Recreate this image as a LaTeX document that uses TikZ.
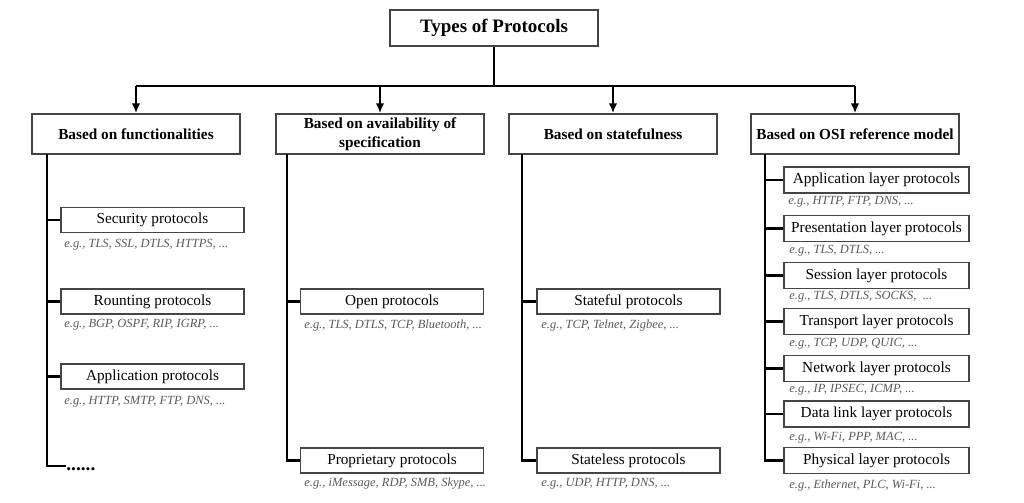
\documentclass[tikz,border=0pt]{standalone}
\usepackage{fontspec}
\setmainfont{Liberation Serif}
\usetikzlibrary{arrows.meta}
\definecolor{boxgray}{HTML}{454545}
\definecolor{eggray}{HTML}{5A5A5A}

\begin{document}
\begin{tikzpicture}[
        titlebox/.style={draw=boxgray, line width=0.8pt, minimum width=4.16cm, minimum height=0.72cm, font=\fontsize{10.8}{13}\selectfont\bfseries},
        catbox/.style={draw=boxgray, line width=0.8pt, minimum width=4.16cm, minimum height=0.8cm, inner sep=1pt, align=center, font=\fontsize{8.7}{10.6}\selectfont\bfseries},
        leafbox/.style={draw=boxgray, line width=0.8pt, minimum width=3.66cm, minimum height=0.5cm, inner sep=1pt, font=\fontsize{8.7}{10}\selectfont},
        osibox/.style={leafbox, minimum width=3.7cm, minimum height=0.52cm},
        egtext/.style={anchor=west, inner sep=0pt, text=eggray, font=\fontsize{7.1}{8.5}\selectfont\itshape},
        link/.style={line width=1.2pt},
        >={Latex[length=2mm,width=1.7mm]}
    ]
        \pgfmathsetmacro{\s}{0.02};
        \useasboundingbox (0,0) rectangle (\s*1024,\s*-502);
        % top
        \node [titlebox] (types) at (\s*494,\s*-28) {Types of Protocols};
        \node [catbox] (func) at (\s*136,\s*-134) {Based on functionalities};
        \node [catbox] (avail) at (\s*380,\s*-134) {Based on availability of\\specification};
        \node [catbox] (state) at (\s*613,\s*-134) {Based on statefulness};
        \node [catbox] (osi) at (\s*855,\s*-134) {Based on OSI reference model};
        \coordinate (bus) at (\s*494,\s*-86);
        \draw [link] (types) -- (bus);
        \draw [link] (bus -| func) -- (bus -| osi);
        \foreach \c in {func, avail, state, osi}
            \draw [link, ->] (bus -| \c) -- (\c);
        % functionalities
        \coordinate (f0) at (\s*47,\s*-154);
        \node [leafbox] (sec) at (\s*152.5,\s*-220) {Security protocols};
        \node [egtext] at (\s*64,\s*-245) {e.g., TLS, SSL, DTLS, HTTPS, ...};
        \node [leafbox] (rout) at (\s*152.5,\s*-301.5) {Rounting protocols};
        \node [egtext] at (\s*64,\s*-325) {e.g., BGP, OSPF, RIP, IGRP, ...};
        \node [leafbox] (app) at (\s*152.5,\s*-376.5) {Application protocols};
        \node [egtext] at (\s*64,\s*-402) {e.g., HTTP, SMTP, FTP, DNS, ...};
        \coordinate (fend) at (\s*66,\s*-466);
        \node [anchor=base west, inner sep=0pt, font=\fontsize{11}{13}\selectfont\bfseries] (more) at (\s*66,\s*-470) {......};
        \draw [link] (f0) |- (fend);
        \foreach \n in {sec, rout, app}
            \draw [link] (f0 |- \n) -- (\n);
        % availability
        \coordinate (a0) at (\s*287,\s*-154);
        \node [leafbox] (open) at (\s*392,\s*-301.5) {Open protocols};
        \node [egtext] at (\s*304,\s*-325) {e.g., TLS, DTLS, TCP, Bluetooth, ...};
        \node [leafbox] (prop) at (\s*392,\s*-460.5) {Proprietary protocols};
        \node [egtext] at (\s*304,\s*-484) {e.g., iMessage, RDP, SMB, Skype, ...};
        \draw [link] (a0) |- (prop);
        \draw [link] (a0 |- open) -- (open);
        % statefulness
        \coordinate (s0) at (\s*522,\s*-154);
        \node [leafbox] (sful) at (\s*628.5,\s*-301.5) {Stateful protocols};
        \node [egtext] at (\s*541,\s*-325) {e.g., TCP, Telnet, Zigbee, ...};
        \node [leafbox] (sless) at (\s*628.5,\s*-460.5) {Stateless protocols};
        \node [egtext] at (\s*541,\s*-484) {e.g., UDP, HTTP, DNS, ...};
        \draw [link] (s0) |- (sless);
        \draw [link] (s0 |- sful) -- (sful);
        % OSI layers
        \coordinate (o0) at (\s*765,\s*-154);
        \node [osibox] (l7) at (\s*876.5,\s*-180) {Application layer protocols};
        \node [egtext] at (\s*788,\s*-202) {e.g., HTTP, FTP, DNS, ...};
        \node [osibox] (l6) at (\s*876.5,\s*-228.5) {Presentation layer protocols};
        \node [egtext] at (\s*789,\s*-251) {e.g., TLS, DTLS, ...};
        \node [osibox] (l5) at (\s*876.5,\s*-275.5) {Session layer protocols};
        \node [egtext] at (\s*789,\s*-297) {e.g., TLS, DTLS, SOCKS, \ ...};
        \node [osibox] (l4) at (\s*876.5,\s*-321.5) {Transport layer protocols};
        \node [egtext] at (\s*789,\s*-344) {e.g., TCP, UDP, QUIC, ...};
        \node [osibox] (l3) at (\s*876.5,\s*-368.5) {Network layer protocols};
        \node [egtext] at (\s*789,\s*-390) {e.g., IP, IPSEC, ICMP, ...};
        \node [osibox] (l2) at (\s*876.5,\s*-414) {Data link layer protocols};
        \node [egtext] at (\s*789,\s*-438) {e.g., Wi-Fi, PPP, MAC, ...};
        \node [osibox] (l1) at (\s*876.5,\s*-460.5) {Physical layer protocols};
        \node [egtext] at (\s*789,\s*-485) {e.g., Ethernet, PLC, Wi-Fi, ...};
        \draw [link] (o0) |- (l1);
        \foreach \n in {l7, l6, l5, l4, l3, l2}
            \draw [link] (o0 |- \n) -- (\n);
    \end{tikzpicture}
\end{document}
